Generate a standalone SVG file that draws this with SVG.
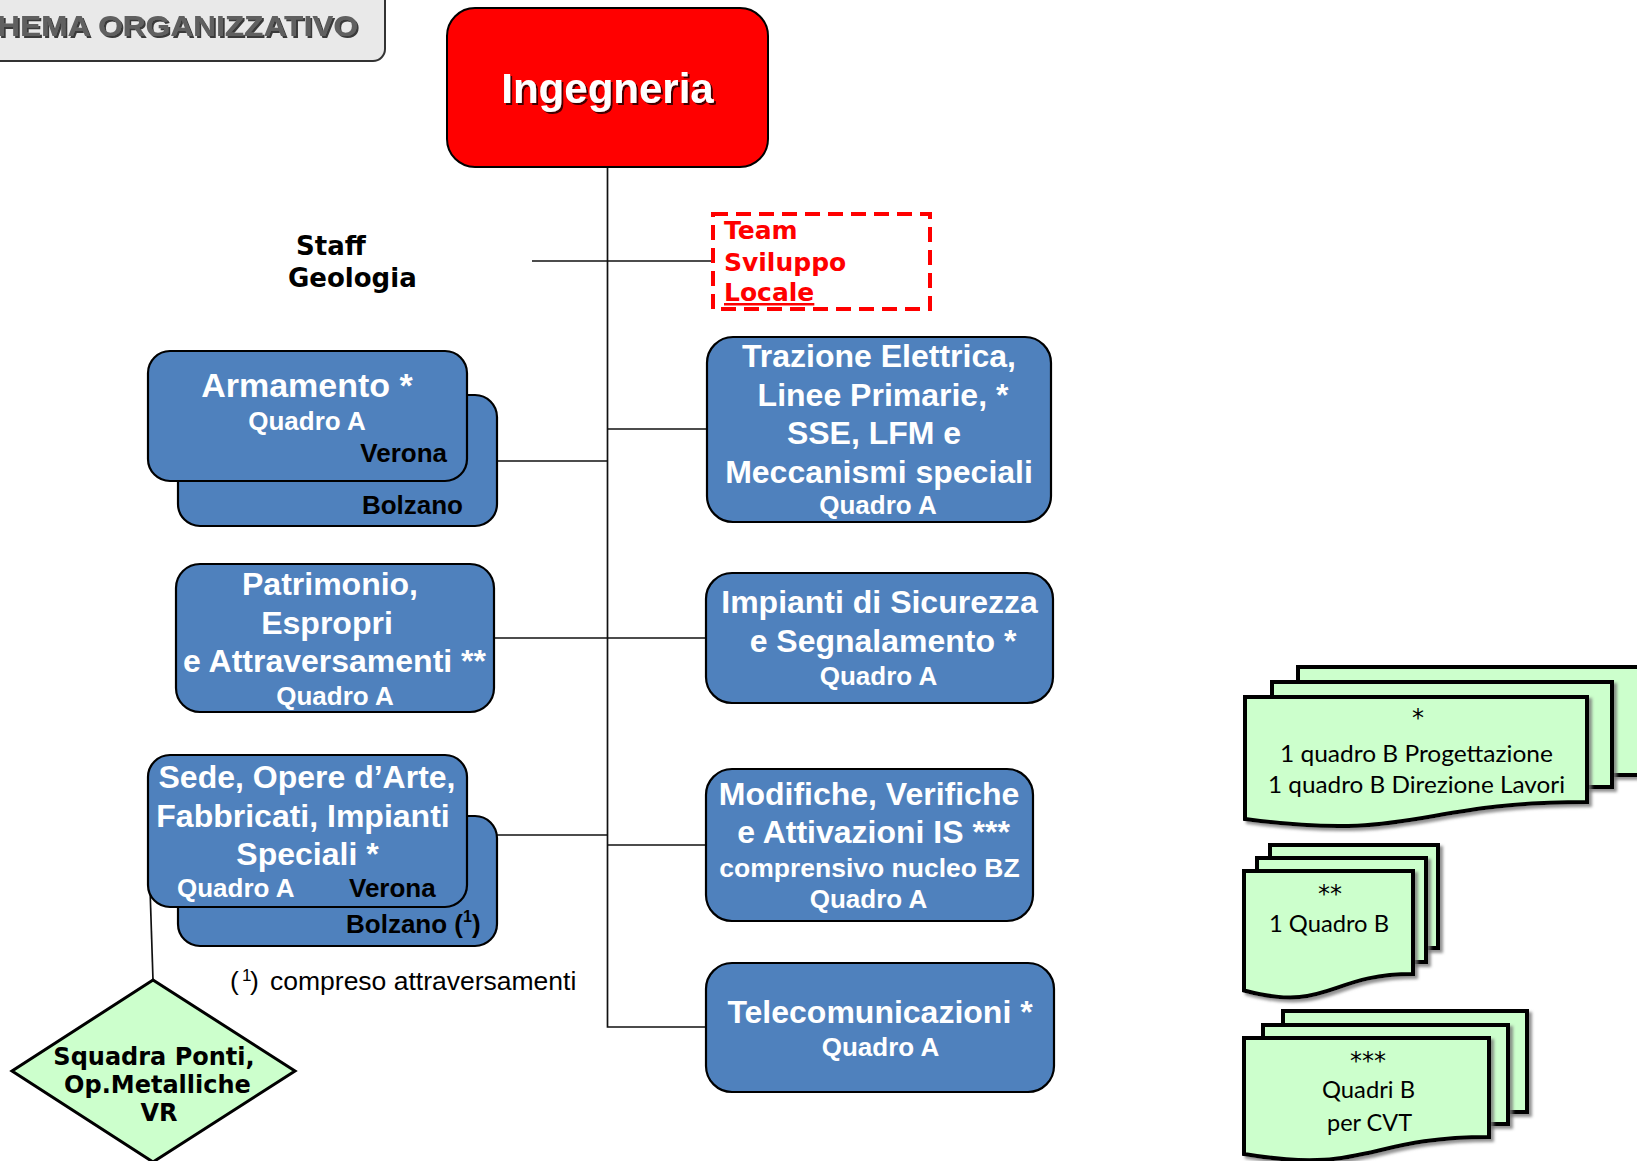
<svg xmlns="http://www.w3.org/2000/svg" width="1637" height="1161" viewBox="0 0 1637 1161">
<defs>
<filter id="sh" x="-10%" y="-20%" width="130%" height="150%"><feDropShadow dx="2" dy="2" stdDeviation="0.6" flood-color="#000" flood-opacity="0.75"/></filter>
<filter id="docsh" x="-5%" y="-5%" width="115%" height="125%"><feDropShadow dx="3" dy="3" stdDeviation="1.5" flood-color="#777" flood-opacity="0.8"/></filter>
</defs>
<style>
.box{fill:#4f81bd;stroke:#000;stroke-width:2.2}
.bt{font-family:"Liberation Sans",Arial,sans-serif;font-weight:bold;fill:#fff;text-anchor:middle}
.t32{font-size:32px}
.t26{font-size:26px}
.blk{fill:#000}
.end{text-anchor:end}
.st{text-anchor:start}
.conn{stroke:#111;stroke-width:1.7;fill:none}
.doc{fill:#ccffcc;stroke:#000;stroke-width:4;filter:url(#docsh)}
.dt{font-family:Lato,"Open Sans",sans-serif;font-size:24px;fill:#000;text-anchor:middle}
.ast{font-family:"DejaVu Sans",sans-serif;font-size:24px;fill:#000;text-anchor:middle}
.vb{font-family:"DejaVu Sans",Verdana,sans-serif;font-weight:bold}
</style>

<g id="title">
<rect x="-20" y="-20" width="405" height="81" rx="12" fill="#e9e9e9" stroke="#333" stroke-width="2"/>
<text x="-3" y="36" font-family="Liberation Sans,Arial,sans-serif" font-weight="bold" font-size="30" fill="#606060" filter="url(#sh)" textLength="361" lengthAdjust="spacingAndGlyphs">HEMA ORGANIZZATIVO</text>
</g>

<g id="connectors">
<path class="conn" d="M607.5,167 V1027 H706"/>
<path class="conn" d="M532,261 H713"/>
<path class="conn" d="M607.5,429 H707"/>
<path class="conn" d="M494,638 H706"/>
<path class="conn" d="M607.5,845 H706"/>
<path class="conn" d="M497,461 H607.5"/>
<path class="conn" d="M497,835 H607.5"/>
<path class="conn" d="M150,888 L153,980"/>
</g>

<g id="ingegneria">
<rect x="447" y="8" width="321" height="159" rx="28" fill="#ff0000" stroke="#000" stroke-width="2"/>
<text x="607.5" y="103" text-anchor="middle" font-family="Liberation Sans,Arial,sans-serif" font-weight="bold" font-size="42" fill="#fff" filter="url(#sh)">Ingegneria</text>
</g>

<g id="staff">
<text class="vb" font-size="26"><tspan x="296" y="255">Staff</tspan><tspan x="288" y="287">Geologia</tspan></text>
</g>

<g id="team">
<rect x="713" y="214" width="217" height="95" fill="none" stroke="#ff0000" stroke-width="4" stroke-dasharray="15 8"/>
<text class="vb" font-size="25" fill="#ff0000"><tspan x="724" y="239">Team</tspan><tspan x="724" y="271">Sviluppo</tspan><tspan x="724" y="301" text-decoration="underline">Locale</tspan></text>
</g>

<g id="armamento">
<rect class="box" x="178" y="395" width="319" height="131" rx="22"/>
<rect class="box" x="148" y="351" width="319" height="130" rx="22"/>
<text class="bt" x="307" y="397" font-size="34">Armamento *</text>
<text class="bt t26" x="307" y="430">Quadro A</text>
<text class="bt t26 blk end" x="447" y="462">Verona</text>
<text class="bt t26 blk end" x="463" y="514">Bolzano</text>
</g>

<g id="patrimonio">
<rect class="box" x="176" y="564" width="318" height="148" rx="24"/>
<text class="bt t32" x="330" y="595">Patrimonio,</text>
<text class="bt t32" x="327" y="634">Espropri</text>
<text class="bt t32" x="334.5" y="672">e Attraversamenti **</text>
<text class="bt t26" x="335" y="705">Quadro A</text>
</g>

<g id="sede">
<rect class="box" x="178" y="816" width="319" height="130" rx="22"/>
<rect class="box" x="148" y="755" width="319" height="152" rx="22"/>
<text class="bt t32" x="307" y="788">Sede, Opere d’Arte,</text>
<text class="bt t32" x="303" y="827">Fabbricati, Impianti</text>
<text class="bt t32" x="307.5" y="865">Speciali *</text>
<text class="bt t26 st" x="177" y="897">Quadro A</text>
<text class="bt t26 blk st" x="349" y="897">Verona</text>
<text class="bt t26 blk st" x="346" y="933">Bolzano (<tspan font-size="16" dy="-11">1</tspan><tspan dy="11">)</tspan></text>
</g>

<g id="footnote">
<text font-family="Liberation Sans,Arial,sans-serif" font-size="26.5" fill="#000"><tspan x="230" y="990">(</tspan><tspan x="242" y="981" font-size="17">1</tspan><tspan x="250" y="990">)</tspan><tspan x="270" y="990">compreso attraversamenti</tspan></text>
</g>

<g id="squadra">
<polygon points="153,980 295,1071 153,1162 12,1071" fill="#ccffcc" stroke="#000" stroke-width="3"/>
<text class="vb" font-size="24" text-anchor="middle"><tspan x="154" y="1065">Squadra Ponti,</tspan><tspan x="157.5" y="1093">Op.Metalliche</tspan><tspan x="159" y="1121">VR</tspan></text>
</g>

<g id="trazione">
<rect class="box" x="707" y="337" width="344" height="185" rx="26"/>
<text class="bt t32" x="879" y="367">Trazione Elettrica,</text>
<text class="bt t32" x="883" y="406">Linee Primarie, *</text>
<text class="bt t32" x="874" y="444">SSE, LFM e</text>
<text class="bt t32" x="879" y="483">Meccanismi speciali</text>
<text class="bt t26" x="878" y="514">Quadro A</text>
</g>

<g id="impianti">
<rect class="box" x="706" y="573" width="347" height="130" rx="26"/>
<text class="bt t32" x="879.5" y="613">Impianti di Sicurezza</text>
<text class="bt t32" x="883" y="652">e Segnalamento *</text>
<text class="bt t26" x="878.5" y="685">Quadro A</text>
</g>

<g id="modifiche">
<rect class="box" x="706" y="769" width="327" height="152" rx="26"/>
<text class="bt t32" x="869" y="805">Modifiche, Verifiche</text>
<text class="bt t32" x="873.5" y="843">e Attivazioni IS ***</text>
<text class="bt" x="869.5" y="877" font-size="26.5">comprensivo nucleo BZ</text>
<text class="bt t26" x="868.5" y="908">Quadro A</text>
</g>

<g id="telecomunicazioni">
<rect class="box" x="706" y="963" width="348" height="129" rx="26"/>
<text class="bt t32" x="880" y="1023">Telecomunicazioni *</text>
<text class="bt t26" x="880.5" y="1056">Quadro A</text>
</g>

<g id="doc1">
<rect class="doc" x="1298" y="667" width="360" height="108"/>
<rect class="doc" x="1272" y="682" width="340" height="105"/>
<path class="doc" d="M1245,697 H1587 V802 C1416,802 1416,842 1245,819 Z"/>
<text class="ast" x="1418" y="726">*</text>
<text class="dt" x="1416.5" y="762" textLength="273" lengthAdjust="spacingAndGlyphs">1 quadro B Progettazione</text>
<text class="dt" x="1416.5" y="793" textLength="297" lengthAdjust="spacingAndGlyphs">1 quadro B Direzione Lavori</text>
</g>

<g id="doc2">
<rect class="doc" x="1270" y="845" width="168" height="103"/>
<rect class="doc" x="1257" y="858" width="169" height="104"/>
<path class="doc" d="M1244,871 H1413 V974 C1328.5,974 1328.5,1013 1244,990.5 Z"/>
<text class="ast" x="1330" y="902">**</text>
<text class="dt" x="1329" y="932" textLength="120" lengthAdjust="spacingAndGlyphs">1 Quadro B</text>
</g>

<g id="doc3">
<rect class="doc" x="1283" y="1011" width="244" height="101"/>
<rect class="doc" x="1263" y="1025" width="245" height="99"/>
<path class="doc" d="M1244,1038 H1489 V1137 C1366.5,1137 1366.5,1175 1244,1154 Z"/>
<text class="ast" x="1368" y="1069">***</text>
<text class="dt" x="1368.5" y="1098" textLength="93" lengthAdjust="spacingAndGlyphs">Quadri B</text>
<text class="dt" x="1369.5" y="1131" textLength="85" lengthAdjust="spacingAndGlyphs">per CVT</text>
</g>
</svg>
